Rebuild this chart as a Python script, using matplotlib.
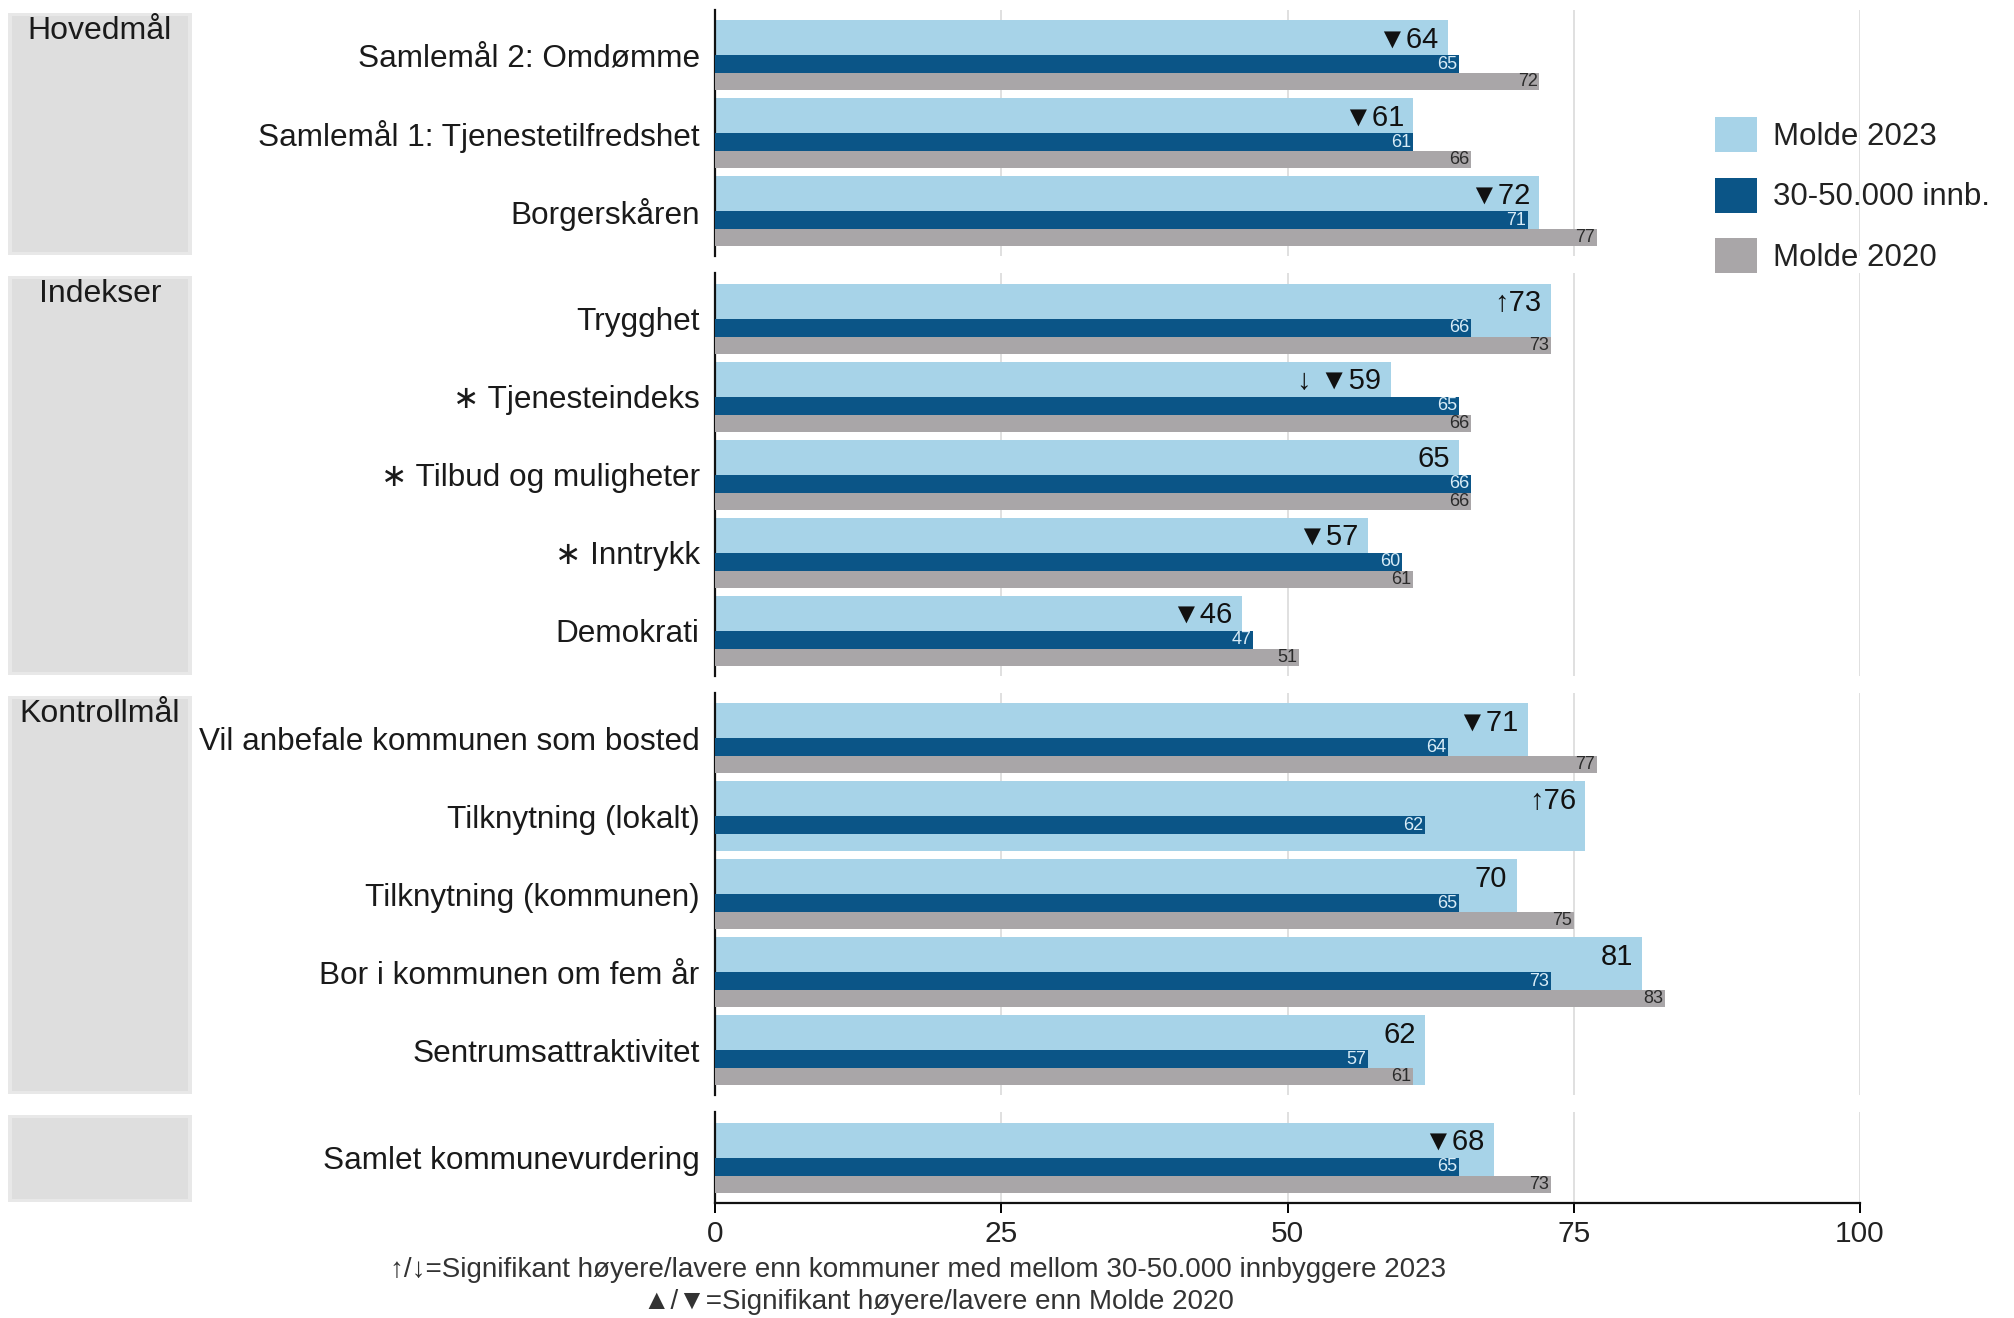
import matplotlib
matplotlib.use("Agg")
import matplotlib.pyplot as plt
import numpy as np
from matplotlib.patches import Patch, Rectangle

plt.rcParams['font.family'] = ['Liberation Sans', 'DejaVu Sans']

# data
groups = ["Hovedmål", "Indekser", "Kontrollmål", ""]
group_sizes = [3, 5, 5, 1]
categories = ["Samlemål 2: Omdømme", "Samlemål 1: Tjenestetilfredshet", "Borgerskåren",
              "Trygghet", "∗ Tjenesteindeks", "∗ Tilbud og muligheter", "∗ Inntrykk", "Demokrati",
              "Vil anbefale kommunen som bosted", "Tilknytning (lokalt)", "Tilknytning (kommunen)",
              "Bor i kommunen om fem år", "Sentrumsattraktivitet",
              "Samlet kommunevurdering"]
molde_2023 = [64, 61, 72, 73, 59, 65, 57, 46, 71, 76, 70, 81, 62, 68]
innb_30_50 = [65, 61, 71, 66, 65, 66, 60, 47, 64, 62, 65, 73, 57, 65]
molde_2020 = [72, 66, 77, 73, 66, 66, 61, 51, 77, np.nan, 75, 83, 61, 73]
signif = ["▼", "▼", "▼", "↑", "↓ ▼", "", "▼", "▼", "▼", "↑", "", "", "", "▼"]
series_names = ["Molde 2023", "30-50.000 innb.", "Molde 2020"]
xticks = [0, 25, 50, 75, 100]
footnotes = ["↑/↓=Signifikant høyere/lavere enn kommuner med mellom 30-50.000 innbyggere 2023",
             "▲/▼=Signifikant høyere/lavere enn Molde 2020"]

c_light = '#a7d3e8'
c_dark = '#0b5587'
c_gray = '#a9a6a8'

W, H = 2014, 1318
fig = plt.figure(figsize=(W / 100, H / 100), dpi=100)

# layout in pixels
unit = 78
pad = 0.58
gap = 17
x0, x1 = 715, 1860
top = 10
start = 0

for gi, (gname, n) in enumerate(zip(groups, group_sizes)):
    h = (n - 1 + 2 * pad) * unit
    ax = fig.add_axes([x0 / W, 1 - (top + h) / H, (x1 - x0) / W, h / H])
    idx = slice(start, start + n)
    y = np.arange(n)
    v23 = molde_2023[idx]
    vdk = innb_30_50[idx]
    v20 = molde_2020[idx]
    sig = signif[idx]

    ax.barh(y, v23, height=0.9, color=c_light, zorder=2)
    ax.barh(y + 0.115, vdk, height=0.23, color=c_dark, zorder=3)
    ax.barh(y + 0.34, v20, height=0.22, color=c_gray, zorder=3)

    for yi, a, b, c, s in zip(y, v23, vdk, v20, sig):
        ax.text(a - 0.8, yi - 0.2, f"{s}{a}", ha='right', va='center',
                fontsize=21, color='#111111', zorder=4)
        ax.text(b - 0.15, yi + 0.115, f"{b}", ha='right', va='center',
                fontsize=13, color='#d8ecf7', zorder=4)
        if not np.isnan(c):
            ax.text(c - 0.15, yi + 0.34, f"{int(c)}", ha='right', va='center',
                    fontsize=13, color='#2b2b2b', zorder=4)

    ax.set_xlim(0, 100)
    ax.set_ylim(n - 1 + pad, -pad)
    ax.set_yticks(y, labels=categories[idx])
    ax.tick_params(axis='y', length=0, pad=11, labelsize=22.7, labelcolor='#1a1a1a')
    ax.set_xticks(xticks)
    ax.set_axisbelow(True)
    ax.grid(axis='x', color='#dadada', linewidth=1.2, zorder=0)
    for sp in ['top', 'right']:
        ax.spines[sp].set_visible(False)
    ax.spines['left'].set_linewidth(1.6)
    ax.spines['left'].set_color('#111111')
    if gi == len(groups) - 1:
        ax.spines['bottom'].set_linewidth(1.6)
        ax.spines['bottom'].set_color('#111111')
        ax.tick_params(axis='x', length=7, width=1.4, pad=5, labelsize=21.5, labelcolor='#222222')
    else:
        ax.spines['bottom'].set_visible(False)
        ax.tick_params(axis='x', bottom=False, labelbottom=False)

    # grey group strip on the left
    fig.patches.append(Rectangle((8 / W, 1 - (top + h - 1) / H), 184 / W, (h - 4) / H,
                                 transform=fig.transFigure, facecolor='#e8e8e8',
                                 edgecolor='none', zorder=0))
    fig.patches.append(Rectangle((12 / W, 1 - (top + h - 4) / H), 176 / W, (h - 10) / H,
                                 transform=fig.transFigure, facecolor='#dedede',
                                 edgecolor='none', zorder=0))
    if gname:
        fig.text(100 / W, 1 - (top + 21) / H, gname, ha='center', va='center',
                 fontsize=23, color='#1a1a1a')

    top += h + gap
    start += n

handles = [Patch(facecolor=c, edgecolor='none') for c in (c_light, c_dark, c_gray)]
fig.legend(handles, series_names, loc='upper left', bbox_to_anchor=(1687 / W, 1 - 89 / H),
           frameon=False, fontsize=22.5, handlelength=1.35, handleheight=1.35,
           handletextpad=0.5, labelspacing=0.81, labelcolor='#222222')

fig.text(918 / W, 1 - 1270 / H, footnotes[0], ha='center', va='center', fontsize=20, color='#333333')
fig.text(938 / W, 1 - 1302 / H, footnotes[1], ha='center', va='center', fontsize=20, color='#333333')

fig.savefig("out.png", dpi=100)
